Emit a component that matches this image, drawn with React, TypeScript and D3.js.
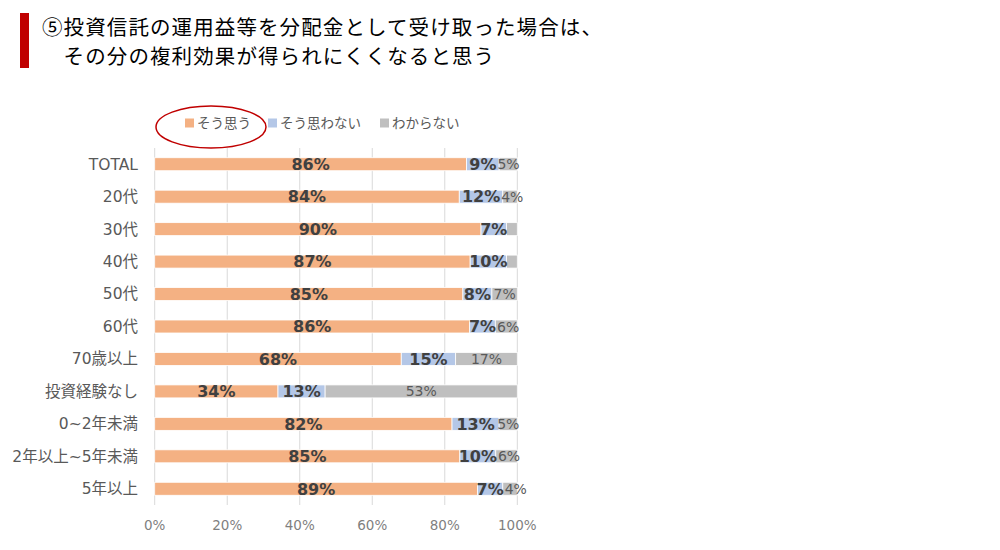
import React, { useEffect, useRef } from 'react';
import * as d3 from 'd3';

const categories = ['TOTAL', '20代', '30代', '40代', '50代', '60代', '70歳以上', '投資経験なし', '0~2年未満', '2年以上~5年未満', '5年以上'];
const agree = [86, 84, 90, 87, 85, 86, 68, 34, 82, 85, 89];
const disagree = [9, 12, 7, 10, 8, 7, 15, 13, 13, 10, 7];
const unknown = [5, 4, 3, 3, 7, 6, 17, 53, 5, 6, 4];
const seriesNames = ['そう思う', 'そう思わない', 'わからない'];
const seriesColors = ['#F4B183', '#B4C7E7', '#BFBFBF'];
const xTicks = [0, 0.2, 0.4, 0.6, 0.8, 1];
const titleLines = ['⑤投資信託の運用益等を分配金として受け取った場合は、', '　その分の複利効果が得られにくくなると思う'];

const jp = '"Noto Sans CJK JP", "Noto Sans", sans-serif';
const mixed = '"DejaVu Sans", "Noto Sans CJK JP", sans-serif';
const num = '"DejaVu Sans", Verdana, sans-serif';

const App: React.FC = () => {
  const svgRef = useRef<SVGSVGElement>(null);

  useEffect(() => {
    if (!svgRef.current) return;
    const svg = d3.select(svgRef.current);
    svg.selectAll('*').remove();

    const width = 1000;
    const height = 550;
    const plot = { left: 154.7, right: 517.3, top: 148, bottom: 505 };

    svg.append('rect').attr('width', width).attr('height', height).attr('fill', '#fff');

    // Title
    svg.append('rect')
      .attr('x', 20).attr('y', 13).attr('width', 9).attr('height', 55)
      .attr('fill', '#C00000');
    svg.append('g').selectAll('text')
      .data(titleLines)
      .join('text')
      .attr('x', 42)
      .attr('y', (d, i) => 34.5 + i * 29.8)
      .attr('font-family', jp)
      .attr('font-size', 20.5)
      .attr('letter-spacing', 1.1)
      .attr('fill', '#000')
      .text(d => d);

    const rows = categories.map((c, i) => ({ cat: c, a: agree[i], b: disagree[i], c: unknown[i] }));
    const keys = ['a', 'b', 'c'];
    const stacked = d3.stack<any>()
      .keys(keys)
      .offset(d3.stackOffsetExpand)(rows);

    const x = d3.scaleLinear().domain([0, 1]).range([plot.left, plot.right]);
    const y = d3.scaleBand<string>()
      .domain(categories)
      .range([plot.top, plot.bottom])
      .paddingInner(0.6)
      .paddingOuter(0.3);

    // Grid
    svg.append('g')
      .selectAll('line')
      .data(xTicks)
      .join('line')
      .attr('x1', d => x(d)).attr('x2', d => x(d))
      .attr('y1', plot.top).attr('y2', plot.bottom)
      .attr('stroke', '#D9D9D9')
      .attr('stroke-width', 1);

    // Bars
    const layers = svg.append('g')
      .selectAll('g')
      .data(stacked)
      .join('g')
      .attr('fill', (d, i) => seriesColors[i]);

    layers.selectAll('rect')
      .data(d => d)
      .join('rect')
      .attr('x', d => x(d[0]))
      .attr('y', (d: any) => y(d.data.cat)!)
      .attr('width', d => x(d[1]) - x(d[0]))
      .attr('height', y.bandwidth())
      .attr('stroke', '#fff')
      .attr('stroke-width', 0.8);

    // Labels (centered in segment, nudged right when they would collide)
    const labelG = svg.append('g');
    categories.forEach((cat, ri) => {
      let prevRight = -Infinity;
      stacked.forEach((layer, si) => {
        const v = [agree, disagree, unknown][si][ri];
        if (v < 4) return;
        const seg = layer[ri];
        const t = labelG.append('text')
          .attr('y', y(cat)! + y.bandwidth() / 2)
          .attr('dy', '0.36em')
          .attr('text-anchor', 'middle')
          .attr('font-family', num)
          .attr('font-size', si === 2 ? 14 : 16)
          .attr('font-weight', si === 2 ? 'normal' : 'bold')
          .attr('fill', si === 2 ? '#595959' : '#404040')
          .text(`${v}%`);
        const w = (t.node() as SVGTextElement).getComputedTextLength();
        let cx = x((seg[0] + seg[1]) / 2);
        if (cx - w / 2 < prevRight + 1) cx = prevRight + 1 + w / 2;
        t.attr('x', cx);
        prevRight = cx + w / 2;
      });
    });

    // Category axis
    svg.append('g')
      .selectAll('text')
      .data(categories)
      .join('text')
      .attr('x', 138)
      .attr('y', d => y(d)! + y.bandwidth() / 2)
      .attr('dy', '0.35em')
      .attr('text-anchor', 'end')
      .attr('font-family', mixed)
      .attr('font-size', 15.5)
      .attr('fill', '#595959')
      .text(d => d);

    // X axis labels
    svg.append('g')
      .selectAll('text')
      .data(xTicks)
      .join('text')
      .attr('x', d => x(d))
      .attr('y', 525)
      .attr('dy', '0.35em')
      .attr('text-anchor', 'middle')
      .attr('font-family', num)
      .attr('font-size', 13.5)
      .attr('fill', '#7F7F7F')
      .text(d => d3.format('.0%')(d));

    // Legend
    const legendX = [185, 268, 380];
    const legend = svg.append('g')
      .selectAll('g')
      .data(seriesNames)
      .join('g')
      .attr('transform', (d, i) => `translate(${legendX[i]},123)`);
    legend.append('rect')
      .attr('x', 0).attr('y', -4.5).attr('width', 9).attr('height', 9)
      .attr('fill', (d, i) => seriesColors[i]);
    legend.append('text')
      .attr('x', 12)
      .attr('dy', '0.35em')
      .attr('font-family', jp)
      .attr('font-size', 13.5)
      .attr('fill', '#595959')
      .text(d => d);

    // Highlight ellipse
    svg.append('ellipse')
      .attr('cx', 211).attr('cy', 127)
      .attr('rx', 55).attr('ry', 21)
      .attr('fill', 'none')
      .attr('stroke', '#C00000')
      .attr('stroke-width', 1.5);
  }, []);

  return (
    <svg
      ref={svgRef}
      width={1000}
      height={550}
      style={{ position: 'absolute', left: 0, top: 0, display: 'block' }}
    />
  );
};

export default App;
